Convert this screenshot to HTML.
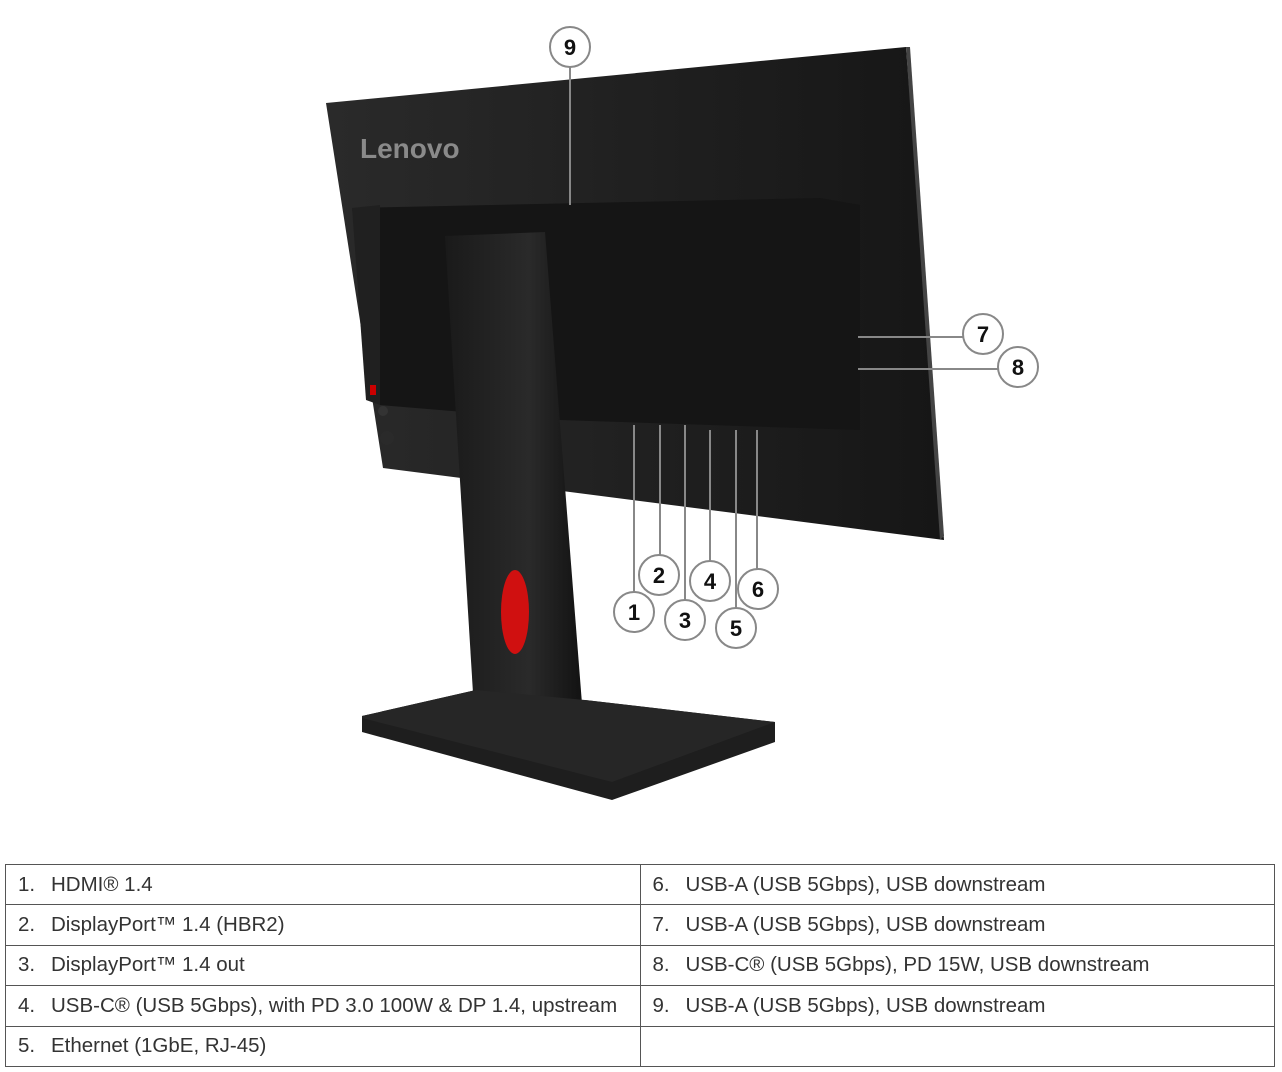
<!DOCTYPE html>
<html><head><style>
body{margin:0;width:1282px;height:1072px;background:#fff;overflow:hidden;position:relative;font-family:"Liberation Sans",sans-serif}
table{position:absolute;left:5px;top:864px;border-collapse:collapse;width:1270px}
td{border:1px solid #555;height:40.4px;padding:0 0 0 12px;font-size:20.5px;color:#333;width:634px;box-sizing:border-box}
td span{display:inline-block;width:33px}
</style></head><body>
<svg width="1282" height="860" style="position:absolute;left:0;top:0">
<defs>
<linearGradient id="g1" x1="0" x2="1"><stop offset="0" stop-color="#2a2a2a"/><stop offset="1" stop-color="#161616"/></linearGradient>
<linearGradient id="g2" x1="0" x2="1"><stop offset="0" stop-color="#1a1a1a"/><stop offset=".6" stop-color="#2a2a2a"/><stop offset="1" stop-color="#111"/></linearGradient>
</defs>
<polygon points="326,103 906,47 944,540 383,468" fill="url(#g1)"/>
<polygon points="906,47 910,47 944,536 940,540" fill="#444"/>
<text x="360" y="158" font-size="28" font-weight="bold" fill="#8a8a8a" font-family="Liberation Sans">Lenovo</text>
<polygon points="352,208 820,198 860,205 860,430 560,420 380,405" fill="#151515"/>
<polygon points="352,208 380,205 380,405 366,400" fill="#202020"/>
<rect x="370" y="385" width="6" height="10" fill="#c00"/>
<circle cx="383" cy="411" r="5" fill="#333"/><circle cx="387" cy="438" r="7" fill="#2a2a2a"/>
<polygon points="445,236 545,232 585,742 476,742" fill="url(#g2)"/>
<polygon points="362,716 476,690 476,742 585,742 585,700 775,722 775,742 612,800 362,732" fill="#1e1e1e"/>
<polygon points="362,716 476,690 585,700 775,722 612,782 362,718" fill="#262626"/>
<ellipse cx="515" cy="612" rx="14" ry="42" fill="#d01010"/>
<g stroke="#888" stroke-width="2" fill="none">
<line x1="570" y1="67" x2="570" y2="205"/>
<line x1="858" y1="337" x2="963" y2="337"/>
<line x1="858" y1="369" x2="998" y2="369"/>
<line x1="634" y1="425" x2="634" y2="592"/>
<line x1="660" y1="425" x2="660" y2="555"/>
<line x1="685" y1="425" x2="685" y2="600"/>
<line x1="710" y1="430" x2="710" y2="561"/>
<line x1="736" y1="430" x2="736" y2="608"/>
<line x1="757" y1="430" x2="757" y2="569"/>
</g>
<g stroke="#888" stroke-width="2" fill="#fff">
<circle cx="570" cy="47" r="20"/><circle cx="983" cy="334" r="20"/><circle cx="1018" cy="367" r="20"/>
<circle cx="634" cy="612" r="20"/><circle cx="659" cy="575" r="20"/><circle cx="685" cy="620" r="20"/>
<circle cx="710" cy="581" r="20"/><circle cx="736" cy="628" r="20"/><circle cx="758" cy="589" r="20"/>
</g>
<g font-size="22" font-weight="bold" text-anchor="middle" fill="#111">
<text x="570" y="55">9</text><text x="983" y="342">7</text><text x="1018" y="375">8</text>
<text x="634" y="620">1</text><text x="659" y="583">2</text><text x="685" y="628">3</text>
<text x="710" y="589">4</text><text x="736" y="636">5</text><text x="758" y="597">6</text>
</g>
</svg>
<table>
<tr><td><span>1.</span>HDMI® 1.4</td><td><span>6.</span>USB-A (USB 5Gbps), USB downstream</td></tr>
<tr><td><span>2.</span>DisplayPort™ 1.4 (HBR2)</td><td><span>7.</span>USB-A (USB 5Gbps), USB downstream</td></tr>
<tr><td><span>3.</span>DisplayPort™ 1.4 out</td><td><span>8.</span>USB-C® (USB 5Gbps), PD 15W, USB downstream</td></tr>
<tr><td><span>4.</span>USB-C® (USB 5Gbps), with PD 3.0 100W &amp; DP 1.4, upstream</td><td><span>9.</span>USB-A (USB 5Gbps), USB downstream</td></tr>
<tr><td><span>5.</span>Ethernet (1GbE, RJ-45)</td><td></td></tr>
</table>
</body></html>
